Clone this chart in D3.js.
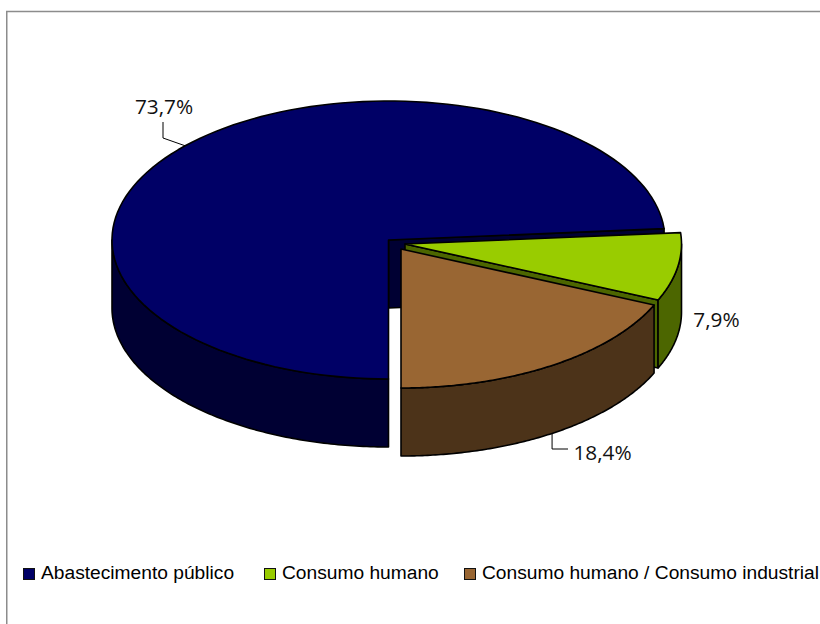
<!DOCTYPE html>
<html><head><meta charset="utf-8">
<script src="https://cdn.jsdelivr.net/npm/d3@7"></script>
<style>html,body{margin:0;padding:0;background:#fff}svg{display:block}</style>
</head><body><svg id="c" width="820" height="624"></svg>
<script>
const categories = ["Abastecimento público","Consumo humano","Consumo humano / Consumo industrial"];
const values = [73.7,7.9,18.4];
const labels = ["73,7%","7,9%","18,4%"];
const topColors = ["#000066","#99CC00","#996633"];
const sideColors = ["#000033","#4C6600","#4C3319"];
const apexes = [[388.5,240],[405,244],[401,249]];
const labelPos = [[164,114],[716.5,327],[602.5,460]];
const legendPos = [[23,41],[264,282],[464,482]];

const rx=276.5, ry=139, depth=68;
const svg=d3.select("#c");
svg.append("rect").attr("x",6.75).attr("y",11.5).attr("width",900).attr("height",700)
  .attr("fill","#fff").attr("stroke","#8c8c8c").attr("stroke-width",1.5);

const arcs=d3.pie().sort(null).startAngle(Math.PI).endAngle(3*Math.PI)(values);
const P=(i,a,d=0)=>[apexes[i][0]+rx*Math.sin(a), apexes[i][1]-ry*Math.cos(a)+d];
const samples=(a0,a1)=>d3.range(0,121).map(k=>a0+(a1-a0)*k/120);
function poly(pts){const p=d3.path();pts.forEach((q,k)=>k?p.lineTo(q[0],q[1]):p.moveTo(q[0],q[1]));p.closePath();return p.toString();}
const draw=(pts,fill)=>svg.append("path").attr("d",poly(pts)).attr("fill",fill).attr("stroke","#000").attr("stroke-width",1.6).attr("stroke-linejoin","round");
const apexD=(i,d=0)=>[apexes[i][0],apexes[i][1]+d];
const wall=(i,a)=>draw([apexD(i),P(i,a),P(i,a,depth),apexD(i,depth)],sideColors[i]);
const rim=(i,a0,a1)=>{const s=samples(a0,a1);draw([...s.map(a=>P(i,a)),...s.slice().reverse().map(a=>P(i,a,depth))],sideColors[i]);};
const face=(i,a0,a1)=>draw([apexD(i),...samples(a0,a1).map(a=>P(i,a))],topColors[i]);

const [n,g,b]=arcs;
// Abastecimento público: back wall, outer rim, top
wall(0,n.endAngle);
rim(0,Math.PI,1.5*Math.PI);
face(0,n.startAngle,n.endAngle);
// Consumo humano
wall(1,g.endAngle);
rim(1,2.5*Math.PI,g.endAngle);
face(1,g.startAngle,g.endAngle);
// Consumo humano / industrial
rim(2,b.startAngle,b.endAngle);
face(2,b.startAngle,b.endAngle);

// leaders from slice mid-angles
const mid=d=>(d.startAngle+d.endAngle)/2;
const lead=(pts)=>svg.append("path").attr("d",d3.line()(pts)).attr("fill","none").attr("stroke","#000").attr("stroke-width",1);
const nA=P(0,mid(n)), bA=P(2,mid(b),depth);
lead([nA,[labelPos[0][0]-1,138],[labelPos[0][0]-1,122]]);
lead([bA,[bA[0],449],[568,449]]);

svg.selectAll("text.lab").data(labels).join("text").attr("class","lab")
  .attr("x",(d,i)=>labelPos[i][0]).attr("y",(d,i)=>labelPos[i][1])
  .attr("text-anchor","middle").attr("font-family","'Open Sans'").attr("font-size",20.8).attr("fill","#111").text(d=>d);

categories.forEach((c,i)=>{
  svg.append("rect").attr("x",legendPos[i][0]+.5).attr("y",568.5).attr("width",11).attr("height",11)
    .attr("fill",topColors[i]).attr("stroke","#111").attr("stroke-width",1);
  svg.append("text").attr("x",legendPos[i][1]).attr("y",579).attr("font-family","'Liberation Sans'").attr("font-size",19.2).attr("fill","#000").text(c);
});
</script></body></html>
